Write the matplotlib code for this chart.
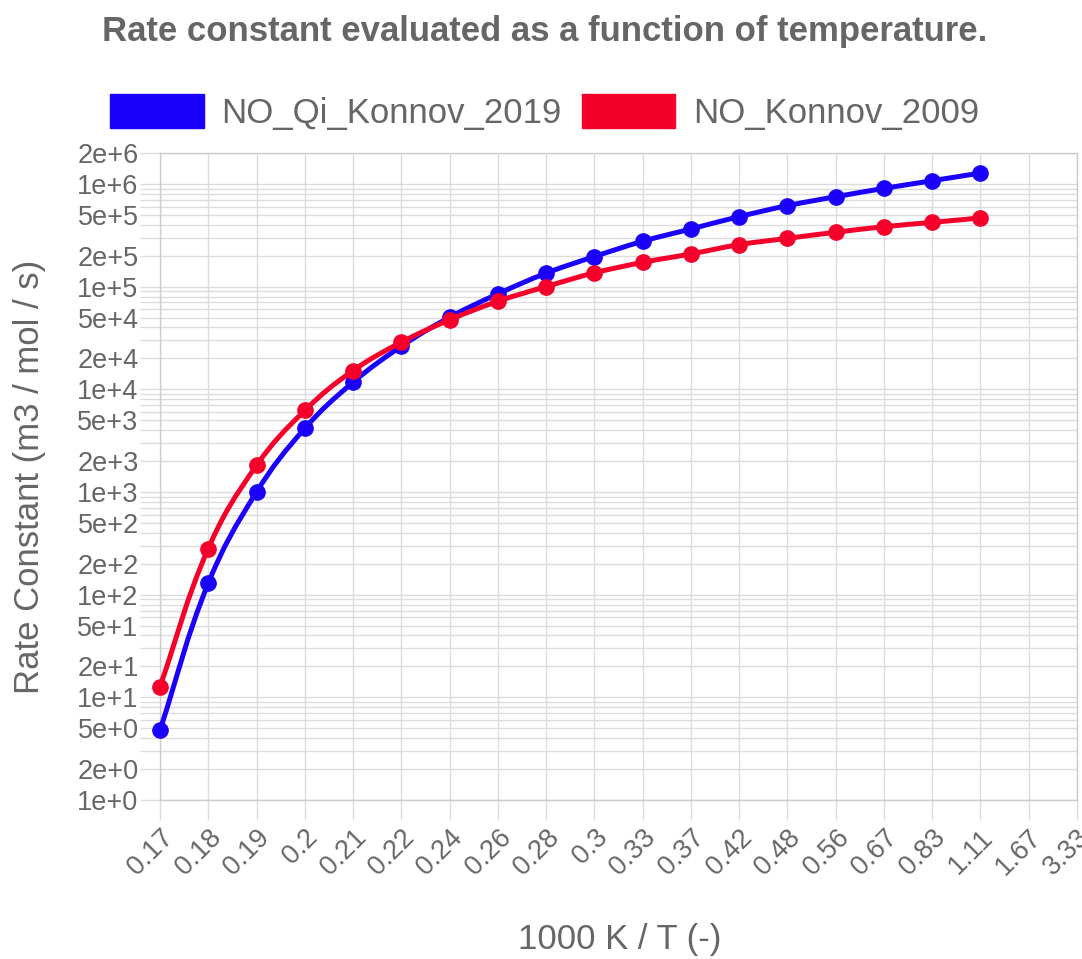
import numpy as np
import matplotlib
matplotlib.use('Agg')
import matplotlib.pyplot as plt
from matplotlib.path import Path
from matplotlib.patches import PathPatch, Patch
from matplotlib.ticker import FixedLocator, NullFormatter

plt.rcParams['font.family'] = ['Liberation Sans', 'DejaVu Sans']

# ---- data -------------------------------------------------------------
x_labels = ['0.17', '0.18', '0.19', '0.2', '0.21', '0.22', '0.24', '0.26', '0.28', '0.3',
            '0.33', '0.37', '0.42', '0.48', '0.56', '0.67', '0.83', '1.11', '1.67', '3.33']

series_names = ['NO_Qi_Konnov_2019', 'NO_Konnov_2009']

qi_konnov_2019 = [4.8, 129, 998, 4160, 11700, 26200, 50200, 84900, 135000, 196000,
                  276000, 364000, 480000, 614000, 750000, 904000, 1074000, 1276000]

konnov_2009 = [12.7, 281, 1815, 6220, 15200, 28700, 47400, 71900, 100000, 136000,
               172000, 208000, 256000, 295000, 338000, 383000, 422000, 466000]

colors = ['#1a00fa', '#f5002a']

# ---- layout -----------------------------------------------------------
W, H = 1082, 959
L, R, T, B = 160, 1077, 153, 800
YMIN, YMAX = 1, 2e6

fig = plt.figure(figsize=(W / 100, H / 100), dpi=100)
ax = fig.add_axes([L / W, 1 - B / H, (R - L) / W, (B - T) / H])
ax.set_yscale('log')
ax.set_xlim(0, len(x_labels) - 1)
ax.set_ylim(YMIN, YMAX)

grid_c = '#dcdcdc'
text_c = '#666666'


def smooth_path(xs, ys, tension=0.4):
    sx = (R - L) / (len(x_labels) - 1)
    sy = (B - T) / (np.log10(YMAX) - np.log10(YMIN))
    P = np.column_stack([np.asarray(xs, float) * sx, np.log10(ys) * sy])
    n = len(P)
    cp_prev, cp_next = [], []
    for i in range(n):
        prev = P[max(i - 1, 0)]
        cur = P[i]
        nxt = P[min(i + 1, n - 1)]
        d01 = np.hypot(*(cur - prev))
        d12 = np.hypot(*(nxt - cur))
        tot = d01 + d12
        s01 = d01 / tot if tot else 0
        s12 = d12 / tot if tot else 0
        cp_prev.append(cur - tension * s01 * (nxt - prev))
        cp_next.append(cur + tension * s12 * (nxt - prev))
    verts = [P[0]]
    codes = [Path.MOVETO]
    for i in range(1, n):
        verts += [cp_next[i - 1], cp_prev[i], P[i]]
        codes += [Path.CURVE4] * 3
    V = np.array(verts)
    V[:, 0] = V[:, 0] / sx
    V[:, 1] = 10 ** (V[:, 1] / sy)
    return Path(V, codes)


for vals, c, z in [(qi_konnov_2019, colors[0], 3), (konnov_2009, colors[1], 4)]:
    xs = np.arange(len(vals))
    ax.add_patch(PathPatch(smooth_path(xs, vals), fill=False, edgecolor=c, lw=3.6,
                           capstyle='round', joinstyle='round', zorder=z))
    ax.plot(xs, vals, 'o', ms=11, color=c, mec=c, zorder=z + 0.5, clip_on=False)

# ---- axes -------------------------------------------------------------
major = [m * 10 ** n for n in range(0, 7) for m in (1, 2, 5) if m * 10 ** n <= YMAX]
minor = [m * 10 ** n for n in range(0, 7) for m in (3, 4, 6, 7, 8, 9) if m * 10 ** n <= YMAX]
ax.yaxis.set_major_locator(FixedLocator(major))
ax.yaxis.set_minor_locator(FixedLocator(minor))
ax.yaxis.set_minor_formatter(NullFormatter())
ax.set_yticklabels([f"{int(round(v / 10 ** int(np.floor(np.log10(v)))))}e+{int(np.floor(np.log10(v)))}"
                    for v in major])

ax.set_xticks(range(len(x_labels)))
ax.set_xticklabels(x_labels, rotation=45, ha='right', va='top', rotation_mode='anchor')

ax.grid(True, which='both', color=grid_c, lw=1)
ax.set_axisbelow(True)
ax.tick_params(which='both', length=14.4, width=1, color=grid_c, direction='out')
ax.tick_params(axis='y', labelsize=19.5, labelcolor=text_c, pad=1)
ax.tick_params(axis='x', labelsize=19.5, labelcolor=text_c, pad=3)
for s in ax.spines.values():
    s.set_color('#cccccc')
    s.set_linewidth(1)

# ---- texts ------------------------------------------------------------
fig.text(545 / W, 1 - 31 / H, 'Rate constant evaluated as a function of temperature.',
         ha='center', va='center', fontsize=25, fontweight='bold', color=text_c)
fig.text(30 / W, 1 - 477 / H, 'Rate Constant (m3 / mol / s)', rotation=90,
         ha='center', va='center', fontsize=25, color=text_c)
fig.text(620 / W, 1 - 940 / H, '1000 K / T (-)', ha='center', va='center',
         fontsize=25, color=text_c)

handles = [Patch(facecolor=c, edgecolor=c) for c in colors]
fig.legend(handles=handles, labels=series_names, loc='center',
           bbox_to_anchor=(544.5 / W, 1 - 112 / H), ncol=2, frameon=False,
           fontsize=25, handlelength=2.7, handleheight=1.15, handletextpad=0.5,
           columnspacing=0.58, labelcolor=text_c, borderpad=0, borderaxespad=0)

fig.savefig('out.png', dpi=100)
